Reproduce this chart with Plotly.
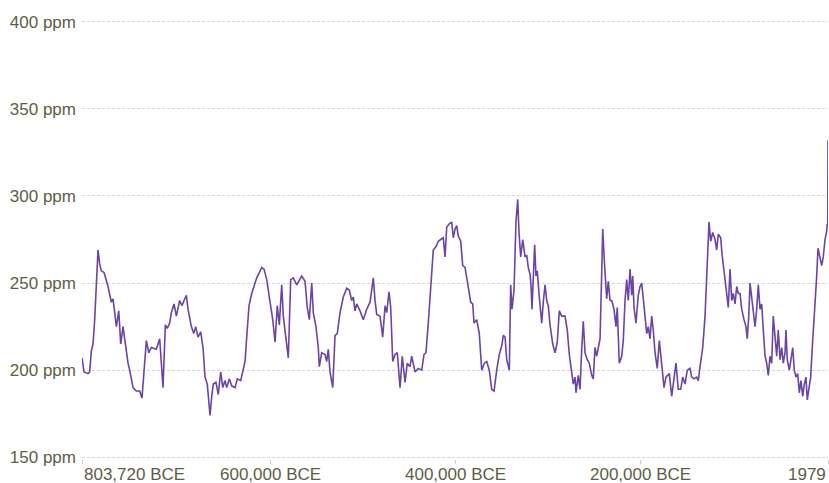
import plotly.graph_objects as go

# CO2 concentration (ppm); age in thousands of years before 1979
age_ka = [805.699, 804.9, 803.5, 799.2, 797.4, 795.6, 793.8, 792.0, 790.2, 788.4, 786.6, 784.8, 781.9, 779.4, 777.6,
          774.0, 772.2, 770.4, 768.6, 766.0, 763.9, 761.4, 758.9, 756.0, 754.2, 750.6, 747.0, 743.4, 740.9, 738.7,
          736.2, 733.6, 730.8, 725.4, 721.8, 720.0, 718.2, 715.7, 713.6, 711.0, 709.2, 706.3, 703.8, 700.2, 697.7,
          695.5, 693.0, 691.2, 687.6, 685.0, 682.9, 680.4, 677.5, 675.0, 672.8, 670.4, 667.4, 665.6, 663.9, 661.0,
          658.5, 655.9, 653.7, 651.2, 649.4, 646.6, 644.0, 640.4, 638.0, 634.3, 631.5, 629.6, 627.8, 625.3, 622.4,
          619.9, 617.0, 614.2, 611.6, 609.1, 606.2, 602.6, 599.7, 597.2, 594.8, 592.6, 590.0, 588.3, 585.4, 582.9,
          580.3, 577.5, 573.8, 571.0, 568.4, 564.8, 562.4, 560.2, 557.6, 555.9, 553.0, 550.5, 549.4, 546.8, 543.2,
          541.4, 539.7, 537.8, 534.9, 532.4, 530.0, 527.0, 523.5, 519.8, 517.0, 514.4, 512.7, 510.8, 509.0, 505.4,
          501.9, 498.2, 494.6, 492.8, 491.1, 489.2, 487.4, 483.8, 480.9, 478.4, 476.6, 474.1, 472.3, 470.1, 467.6,
          465.2, 462.2, 459.8, 456.8, 454.4, 451.4, 449.6, 446.0, 442.5, 438.8, 436.3, 434.2, 431.7, 429.8, 428.0,
          426.3, 423.4, 420.9, 418.3, 415.5, 413.6, 411.8, 409.0, 406.4, 404.7, 402.8, 401.0, 399.3, 396.7, 394.5,
          392.0, 388.5, 385.9, 383.7, 382.3, 379.4, 376.6, 374.0, 371.2, 368.6, 365.8, 363.2, 360.7, 357.8, 355.0,
          352.4, 350.7, 348.8, 347.0, 344.2, 342.7, 341.3, 339.1, 337.0, 335.1, 333.7, 331.9, 329.7, 327.2, 325.4,
          323.7, 321.8, 320.8, 319.7, 318.3, 316.8, 315.4, 314.0, 311.8, 309.2, 307.5, 305.6, 303.8, 302.1, 300.2,
          297.3, 294.8, 292.4, 290.2, 287.6, 284.0, 281.6, 279.4, 276.8, 275.1, 273.2, 272.2, 269.7, 267.8, 266.0,
          264.3, 262.4, 260.0, 257.8, 255.2, 253.5, 251.6, 249.8, 248.1, 246.2, 244.4, 243.3, 241.6, 239.0, 237.3,
          235.4, 233.6, 231.1, 229.0, 227.6, 225.4, 222.8, 221.1, 219.2, 217.4, 215.7, 213.8, 212.0, 210.9, 209.5,
          207.4, 204.9, 203.0, 201.2, 199.5, 197.6, 195.8, 194.1, 192.2, 190.4, 188.7, 186.8, 184.4, 182.2, 179.6,
          177.1, 175.0, 171.4, 168.8, 166.3, 164.2, 161.7, 159.1, 156.9, 154.4, 152.0, 149.0, 147.2, 144.7, 141.8,
          140.1, 138.2, 135.3, 132.8, 130.4, 128.5, 126.7, 124.5, 122.0, 120.2, 118.5, 115.9, 114.5, 113.1, 111.2,
          109.4, 107.7, 105.8, 104.0, 102.3, 100.4, 98.6, 96.9, 95.0, 93.2, 90.7, 88.6, 87.2, 85.6, 84.2,
          82.4, 80.7, 78.8, 77.0, 75.3, 73.4, 71.6, 69.9, 68.0, 66.2, 64.5, 62.6, 60.8, 59.1, 57.2,
          55.4, 53.7, 51.8, 50.0, 48.3, 46.4, 45.4, 44.0, 41.8, 40.0, 38.1, 36.4, 34.6, 32.7, 31.0,
          29.2, 27.3, 25.6, 23.8, 22.4, 20.5, 18.7, 17.0, 15.1, 13.3, 12.2, 10.8, 8.6, 6.8, 5.1,
          3.2, 1.4, 0.8, 0.3, 0.0]
co2_ppm = [207, 203, 199, 198, 199, 211, 215, 229, 246, 269, 261, 257, 256, 252, 248,
           239, 241, 233, 225, 234, 215, 225, 215, 204, 200, 190, 188, 188, 184, 200,
           217, 210, 213, 212, 218, 204, 190, 226, 224, 227, 233, 238, 231, 240, 237,
           240, 243, 235, 225, 221, 225, 219, 222, 213, 196, 192, 174, 185, 192, 193,
           186, 199, 190, 194, 190, 195, 191, 190, 195, 194, 201, 205, 219, 237, 244,
           248, 253, 256, 259, 258, 252, 239, 229, 216, 237, 226, 249, 231, 219, 207,
           252, 253, 249, 252, 254, 251, 236, 229, 250, 233, 225, 213, 202, 210, 209,
           205, 212, 199, 190, 220, 221, 233, 242, 247, 246, 240, 242, 234, 238, 234,
           229, 235, 239, 246, 253, 240, 232, 231, 219, 237, 233, 245, 236, 205, 209,
           210, 190, 208, 193, 204, 202, 208, 199, 201, 200, 209, 210, 227, 240, 254,
           269, 271, 274, 275, 276, 265, 282, 284, 285, 276, 281, 283, 277, 274, 260,
           259, 246, 239, 238, 227, 229, 221, 200, 204, 205, 200, 189, 188, 200, 209,
           214, 220, 219, 206, 200, 249, 235, 246, 285, 298, 279, 265, 275, 265, 266,
           259, 255, 249, 235, 256, 272, 254, 257, 242, 227, 239, 249, 240, 237, 226,
           215, 210, 216, 234, 231, 231, 223, 209, 198, 192, 196, 187, 197, 189, 212,
           228, 210, 206, 204, 197, 195, 213, 208, 214, 218, 256, 281, 263, 241, 251,
           240, 240, 235, 225, 236, 204, 208, 217, 240, 252, 240, 258, 243, 254, 236,
           227, 243, 248, 250, 241, 231, 221, 225, 218, 231, 223, 210, 201, 217, 201,
           190, 196, 198, 185, 194, 204, 189, 189, 196, 192, 200, 201, 196, 195, 196,
           194, 202, 213, 231, 265, 285, 274, 279, 275, 269, 278, 276, 267, 261, 254,
           244, 236, 258, 240, 244, 238, 248, 244, 244, 235, 229, 225, 218, 231, 250,
           242, 231, 225, 235, 249, 235, 238, 223, 208, 204, 197, 208, 204, 231, 219,
           208, 223, 206, 213, 204, 210, 223, 206, 200, 206, 213, 200, 196, 198, 187,
           194, 185, 192, 196, 183, 190, 196, 213, 227, 242, 254, 270, 265, 260, 265,
           275, 280, 284, 282, 332]

years = [1979 - a * 1000 for a in age_ka]

tick_years = [-803720, -600000, -400000, -200000, 1979]
tick_labels = ["803,720 BCE", "600,000 BCE", "400,000 BCE", "200,000 BCE", "1979"]
tick_anchor = ["left", "center", "center", "center", "right"]
y_ticks = [150, 200, 250, 300, 350, 400]
y_text = ["%d ppm" % v for v in y_ticks]

label_color = "#5e5e46"

fig = go.Figure()
fig.add_trace(go.Scatter(x=years, y=co2_ppm, mode="lines",
                         line=dict(color="#6b44a6", width=1.6), hoverinfo="skip"))

fig.update_layout(
    width=829, height=483,
    margin=dict(l=82, r=1, t=20, b=24),
    paper_bgcolor="white", plot_bgcolor="white",
    font=dict(family="Liberation Sans, Arial", size=17, color=label_color),
    showlegend=False,
)
fig.update_xaxes(range=[-803720, 1979], tickvals=tick_years, ticktext=[""] * len(tick_years),
                 ticks="outside", ticklen=4, tickcolor="#cfcfcf", showgrid=False,
                 zeroline=False, showline=False, automargin=False)
fig.update_yaxes(range=[149, 401], tickvals=y_ticks, ticktext=y_text, ticklabelstandoff=5,
                 showgrid=True, gridcolor="#d6d6d6", griddash="3px,2px", gridwidth=1,
                 zeroline=False, showline=False, ticks="", automargin=False)

# x labels: the two end labels line up with the plot edges
for xv, txt, anc in zip(tick_years, tick_labels, tick_anchor):
    fig.add_annotation(x=xv, y=0, xref="x", yref="paper", text=txt,
                       showarrow=False, xanchor=anc, yanchor="top", yshift=-4,
                       font=dict(size=17, color=label_color))

# page has a default body margin; drop it so the chart fills the window
fig.write_html("out.html", config={"displayModeBar": False},
               post_script="document.body.style.margin='0';")
